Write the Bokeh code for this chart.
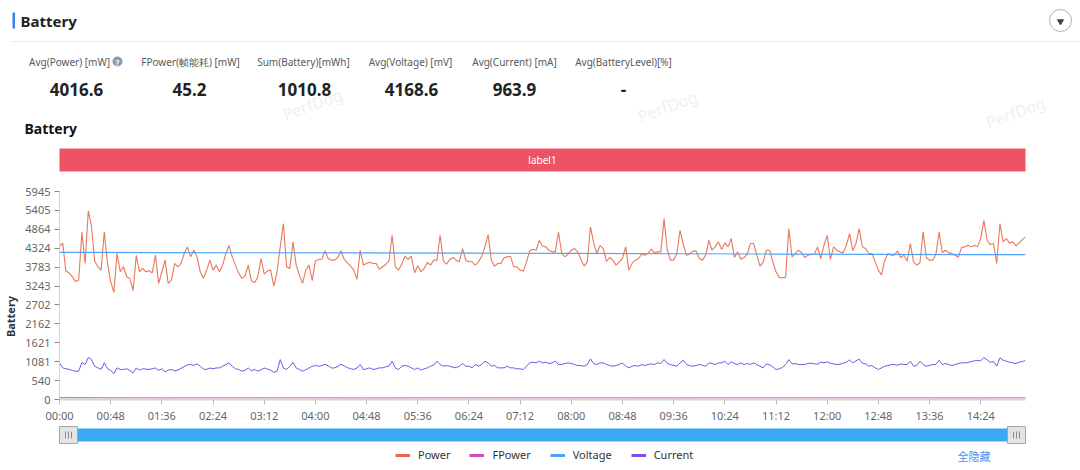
from math import pi
from bokeh.plotting import figure
from bokeh.layouts import column, row
from bokeh.models import Range1d, FixedTicker, Legend, LegendItem
from bokeh.core.properties import value
from bokeh.embed import file_html
from bokeh.resources import INLINE

# ---------------- data ----------------
seconds = list(range(0, 907, 3))  # sample time grid (s)

power = [
    4380, 4470, 3670, 3620, 3510, 3370, 3410, 4788, 3888, 5390,
    4950, 3960, 3793, 3698, 4788, 3900, 3370, 3063, 4172, 3651,
    3793, 3509, 3461, 3110, 4120, 3651, 3750, 3651, 3680, 3620,
    4125, 3320, 3651, 3983, 3319, 3414, 3888, 3793, 3888, 4172,
    4362, 4077, 4267, 4077, 3651, 3461, 3698, 3983, 3698, 3840,
    3651, 3840, 4172, 4400, 4077, 3840, 3620, 3461, 3530, 3840,
    3390, 3338, 3509, 4030, 3585, 3670, 3698, 3240, 3651, 4362,
    5025, 3793, 3746, 4500, 3840, 3556, 3319, 3700, 3840, 3400,
    3960, 4000, 4010, 4250, 4030, 3983, 3983, 4060, 4250, 4010,
    3907, 3812, 3698, 3433, 4267, 3840, 3888, 3926, 3888, 3888,
    3717, 3793, 3860, 3960, 4694, 3793, 3698, 3870, 4096, 4002,
    4096, 3620, 3820, 3651, 3746, 3916, 3840, 3983, 3983, 4694,
    3954, 3870, 4002, 4060, 3983, 3935, 4314, 3983, 3935, 3935,
    3840, 3935, 4096, 4362, 4713, 3983, 3812, 3888, 3888, 4050,
    4077, 4096, 3793, 3793, 3698, 3670, 3935, 4250, 4295, 4267,
    4550, 4390, 4362, 4267, 4220, 4220, 4788, 4172, 4077, 4153,
    4267, 4314, 4220, 4011, 3812, 3935, 4930, 4476, 4172, 4400,
    4314, 3945, 4058, 3983, 3840, 3935, 4030, 4362, 3698, 3888,
    3983, 4030, 4153, 4125, 4172, 4300, 4191, 4220, 4220, 5170,
    4286, 3983, 3983, 4172, 4836, 4438, 4125, 4153, 4239, 4248,
    4030, 3983, 4125, 4551, 4267, 4362, 4504, 4286, 4476, 4362,
    4600, 4058, 4220, 4011, 4058, 4153, 4457, 4457, 4125, 3812,
    3935, 4267, 4267, 3935, 3651, 3490, 3480, 3490, 4883, 4077,
    4172, 4267, 4200, 4058, 4125, 4144, 4153, 4362, 4030, 4409,
    4690, 4002, 4362, 4267, 4220, 4191, 4409, 4741, 4248, 4457,
    4883, 4362, 4314, 4172, 4172, 3935, 3698, 3560, 3983, 4172,
    4125, 4125, 4248, 4058, 4125, 3954, 4457, 3935, 3840, 3907,
    4788, 4058, 3983, 3983, 4153, 4788, 4200, 4267, 4191, 4172,
    4125, 4068, 4343, 4362, 4409, 4362, 4409, 4362, 4599, 5120,
    4551, 4428, 4457, 3888, 5025, 4504, 4599, 4476, 4504, 4390,
    4476, 4570, 4646,
]

current = [
    1047, 904, 880, 860, 830, 809, 809, 1057, 1000, 1200,
    1142, 950, 904, 860, 1047, 880, 830, 742, 904, 857,
    857, 880, 830, 760, 900, 840, 880, 870, 857, 880,
    900, 830, 880, 790, 840, 857, 820, 840, 890, 940,
    990, 1000, 975, 1020, 950, 870, 860, 900, 880, 900,
    905, 950, 1000, 1050, 950, 880, 860, 810, 830, 900,
    820, 860, 810, 850, 900, 870, 840, 780, 800, 1140,
    900, 860, 950, 1060, 900, 857, 809, 850, 900, 950,
    970, 950, 970, 1010, 960, 900, 904, 940, 1010, 960,
    910, 880, 860, 900, 1000, 857, 876, 904, 857, 876,
    904, 904, 933, 952, 1095, 904, 857, 952, 971, 952,
    904, 857, 904, 838, 876, 904, 952, 980, 1095, 1000,
    952, 971, 952, 923, 904, 952, 1028, 952, 952, 904,
    1000, 952, 1000, 1095, 1047, 952, 971, 904, 904, 904,
    952, 904, 904, 876, 876, 857, 952, 1047, 1066, 1047,
    1095, 1047, 1066, 1028, 1047, 1095, 1000, 1000, 1028, 1047,
    1028, 1000, 971, 971, 952, 1000, 1161, 1028, 1000, 1047,
    1047, 1000, 971, 952, 971, 1000, 1047, 952, 904, 952,
    971, 952, 1000, 971, 1000, 1019, 1000, 1047, 1028, 1142,
    1028, 1000, 971, 952, 1047, 1123, 1000, 971, 952, 971,
    1000, 981, 952, 1047, 1028, 1000, 1047, 1047, 1095, 1000,
    1076, 1028, 1000, 1047, 1000, 1028, 1000, 1047, 1000, 952,
    904, 1019, 990, 933, 857, 876, 914, 1000, 1142, 1019,
    1028, 1000, 1000, 1000, 1028, 1038, 1019, 1009, 1066, 1047,
    1076, 1038, 1019, 1000, 1009, 1038, 1066, 1133, 1047, 1104,
    1152, 1038, 1019, 952, 971, 904, 857, 904, 952, 971,
    1000, 1000, 981, 1019, 1000, 1000, 1095, 952, 971, 1095,
    1000, 952, 971, 1000, 1000, 1123, 1000, 1028, 1000, 971,
    1000, 1028, 1047, 1047, 1057, 1085, 1104, 1114, 1104, 1199,
    1133, 1066, 1085, 952, 1190, 1123, 1095, 1066, 1047, 1028,
    1066, 1085, 1114,
]

voltage_t = [0, 96, 192, 288, 384, 480, 576, 672, 768, 864, 906]
voltage = [4205, 4200, 4194, 4189, 4183, 4176, 4166, 4157, 4149, 4142, 4140]

fpower_t = [0, 96, 192, 288, 384, 480, 576, 672, 768, 864, 906]
fpower = [52, 44, 47, 43, 46, 45, 44, 46, 45, 44, 46]

y_ticks = [0, 540, 1081, 1621, 2162, 2702, 3243, 3783, 4324, 4864, 5405, 5945]
x_ticks = [0, 48, 96, 144, 192, 240, 288, 336, 384, 432, 480, 528, 576, 624,
           672, 720, 768, 816, 864]
x_tick_labels = ["00:00", "00:48", "01:36", "02:24", "03:12", "04:00", "04:48",
                 "05:36", "06:24", "07:12", "08:00", "08:48", "09:36", "10:24",
                 "11:12", "12:00", "12:48", "13:36", "14:24"]

stat_labels = ["Avg(Power) [mW]", "FPower(帧能耗) [mW]", "Sum(Battery)[mWh]",
               "Avg(Voltage) [mV]", "Avg(Current) [mA]", "Avg(BatteryLevel)[%]"]
stat_values = ["4016.6", "45.2", "1010.8", "4168.6", "963.9", "-"]

series_names = ["Power", "FPower", "Voltage", "Current"]
series_colors = ["#E8684A", "#D24BC6", "#4EA3F7", "#7E52E6"]

FONT = value("Noto Sans")


def canvas_fig(w, h, y0, y1):
    f = figure(width=w, height=h, x_range=Range1d(0, w), y_range=Range1d(y1, y0),
               x_axis_type=None, y_axis_type=None, output_backend="svg",
               toolbar_location=None, min_border=0, outline_line_color=None)
    f.frame_align = False
    return f


# ---------------- header ----------------
hdr = canvas_fig(1080, 185, 0, 185)

hdr.text(x=[312, 667, 1015], y=[104, 106, 112], text=["PerfDog"] * 3, angle=0.35,
         text_font=FONT, text_font_size="16px", text_color="#F0F0F0",
         text_align="center", text_baseline="middle")

hdr.quad(left=12, right=14.5, top=12, bottom=28, fill_color="#3D7EF7", line_color=None)
hdr.text(x=[20], y=[20], text=["Battery"], text_font=FONT, text_font_style="bold",
         text_font_size="15px", text_color="#222222", text_baseline="middle")
hdr.segment(x0=[10], y0=[41], x1=[1080], y1=[41], line_color="#EBEBEB", line_width=1)
hdr.scatter(x=[1060], y=[20], marker="circle", size=22, fill_color="white",
            line_color="#B0B0B0")
hdr.scatter(x=[1060], y=[21], marker="inverted_triangle", size=6, fill_color="#444444",
            line_color="#444444")

label_x = [69, 190, 303, 410, 514, 623]
value_x = [76, 189, 304, 411, 514, 623]
hdr.text(x=label_x, y=[61] * 6, text=stat_labels, text_font=FONT, text_font_size="10px",
         text_color="#5A5A5A", text_align="center", text_baseline="middle")
hdr.scatter(x=[117], y=[61], marker="circle", size=10, fill_color="#8D9AB2",
            line_color=None)
hdr.text(x=[117], y=[61.5], text=["?"], text_font=FONT, text_font_size="8px",
         text_font_style="bold", text_color="white", text_align="center",
         text_baseline="middle")
hdr.text(x=value_x, y=[89] * 6, text=stat_values, text_font=FONT, text_font_size="17px",
         text_font_style="bold", text_color="#222222", text_align="center",
         text_baseline="middle")

hdr.text(x=[24], y=[128], text=["Battery"], text_font=FONT, text_font_style="bold",
         text_font_size="14px", text_color="#111111", text_baseline="middle")

hdr.quad(left=59, right=1025, top=148, bottom=171, fill_color="#EC5466", line_color=None)
hdr.text(x=[542], y=[159.5], text=["label1"], text_font=FONT, text_font_size="10px",
         text_color="white", text_align="center", text_baseline="middle")

# ---------------- y-axis title strip ----------------
ylab = canvas_fig(22, 240, 185, 425)
ylab.text(x=[10], y=[316], text=["Battery"], angle=pi / 2, text_font=FONT,
          text_font_size="11px", text_font_style="bold", text_color="#333333",
          text_align="center", text_baseline="middle")

# ---------------- main chart ----------------
p = figure(width=1058, height=240, x_range=Range1d(0, 906), y_range=Range1d(0, 5945),
           output_backend="svg", toolbar_location=None,
           min_border_left=37, min_border_right=55, min_border_top=6,
           min_border_bottom=25, outline_line_color=None)
p.frame_align = False
p.xgrid.grid_line_color = None
p.ygrid.grid_line_color = None

p.line(seconds, power, line_color=series_colors[0], line_width=1.1, line_alpha=0.9)
p.line(fpower_t, fpower, line_color=series_colors[1], line_width=1)
p.line(voltage_t, voltage, line_color=series_colors[2], line_width=1.2)
p.line(seconds, current, line_color=series_colors[3], line_width=1)

p.yaxis.ticker = FixedTicker(ticks=y_ticks)
p.yaxis.axis_line_color = "#CCD6EB"
p.yaxis.major_tick_line_color = "#888888"
p.yaxis.major_tick_out = 5
p.yaxis.major_tick_in = 0
p.yaxis.minor_tick_line_color = None
p.yaxis.major_label_text_font = "Noto Sans"
p.yaxis.major_label_text_font_size = "11px"
p.yaxis.major_label_text_color = "#666666"
p.yaxis.major_label_standoff = 4

p.xaxis.ticker = FixedTicker(ticks=x_ticks)
p.xaxis.major_label_overrides = dict(zip(x_ticks, x_tick_labels))
p.xaxis.axis_line_color = "#D5D5D5"
p.xaxis.axis_line_width = 2
p.xaxis.major_tick_line_color = "#BBBBBB"
p.xaxis.major_tick_out = 5
p.xaxis.major_tick_in = 0
p.xaxis.minor_tick_line_color = None
p.xaxis.major_label_text_font = "Noto Sans"
p.xaxis.major_label_text_font_size = "11px"
p.xaxis.major_label_text_color = "#666666"
p.xaxis.major_label_standoff = 3

# ---------------- slider + legend ----------------
bot = canvas_fig(1080, 45, 425, 470)
bot.quad(left=59, right=1025, top=428, bottom=441, fill_color="#3BA9EF", line_color=None)
bot.quad(left=[59, 1007], right=[77, 1025], top=[426, 426], bottom=[443, 443],
         fill_color="#E4E4E4", line_color="#A5A5A5")
bot.segment(x0=[65, 68, 71, 1013, 1016, 1019], y0=[431] * 6,
            x1=[65, 68, 71, 1013, 1016, 1019], y1=[438] * 6, line_color="#8A8A8A")

items = []
for name, col in zip(series_names, series_colors):
    r = bot.line(x=[-50, -40], y=[455, 455], line_color=col, line_width=3)
    items.append(LegendItem(label=name, renderers=[r]))
legend = Legend(items=items, orientation="horizontal", location=(395, 8),
                glyph_width=15, glyph_height=12, label_standoff=8, spacing=19,
                padding=0, margin=0, border_line_color=None, background_fill_alpha=0,
                label_text_font="Noto Sans", label_text_font_size="11px",
                label_text_color="#333333", label_height=12)
bot.add_layout(legend)
bot.text(x=[957], y=[455], text=["全隐藏"], text_font=value("Noto Sans CJK SC"),
         text_font_size="11px", text_color="#4D8CF5", text_baseline="middle")

layout = column(hdr, row(ylab, p), bot)
open("out.html", "w").write(file_html(layout, INLINE))
